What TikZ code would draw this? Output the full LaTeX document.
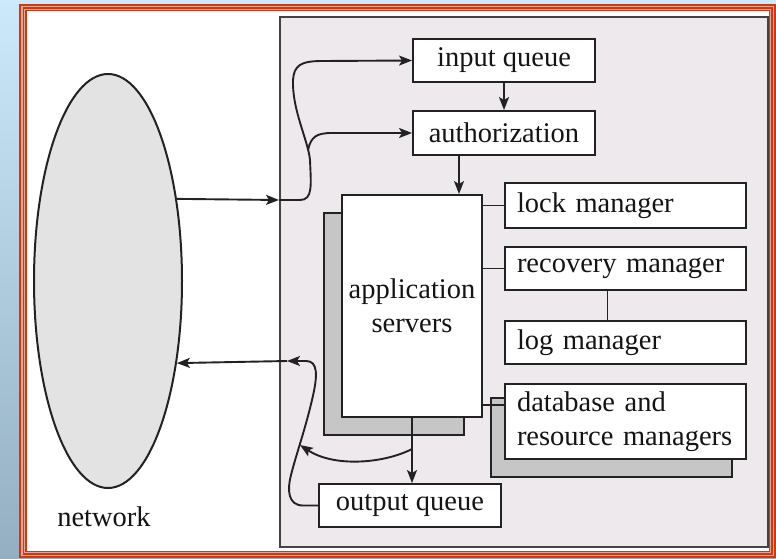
\documentclass[tikz,border=0pt]{standalone}
\usepackage{fontspec}
\setmainfont{Liberation Serif}
\usetikzlibrary{arrows.meta,shapes.geometric}
\definecolor{bgtop}{HTML}{CBE9FB}
\definecolor{bgbot}{HTML}{93AFC1}
\definecolor{framered}{HTML}{CC3A14}
\definecolor{framelight}{HTML}{EBA591}
\definecolor{panel}{HTML}{EEE9ED}
\definecolor{netfill}{HTML}{E3E3E3}
\definecolor{shadowc}{HTML}{C6C6C6}
\definecolor{linec}{HTML}{222222}
\definecolor{textc}{HTML}{141414}
\begin{document}
\begin{tikzpicture}[x=1pt,y=-1pt,
  every node/.style={font=\fontsize{28.5}{34}\selectfont, text=textc},
  wire/.style={draw=linec, line width=1.9pt},
  arr/.style={wire, -{Stealth[length=13pt,width=10pt,inset=3pt]}},
  box/.style={draw=linec, line width=1.9pt, fill=white, inner sep=0pt},
  lbox/.style={box, minimum width=241pt, text width=217pt, inner xsep=12pt, align=left},
  shadowbox/.style={draw=linec, line width=1.9pt, fill=shadowc}
]
\useasboundingbox (0,0) rectangle (776,559);
% background and frame
\shade[top color=bgtop, bottom color=bgbot] (0,0) rectangle (776,559);
\fill[framered] (19,4) rectangle (776,558);
\fill[framelight] (21,6) rectangle (774,556);
\fill[framered] (22.5,7.5) rectangle (772.5,554.5);
\fill[framelight] (24,9) rectangle (771,553);
\fill[framered] (25,10) rectangle (770,552);
\fill[white] (26.5,11.5) rectangle (769,551);
% system panel
\draw[fill=panel, draw=linec!85, line width=1.8pt] (280,17) rectangle (768,547);
% network
\node[ellipse, draw=linec, line width=2pt, fill=netfill, minimum width=148pt, minimum height=414pt, inner sep=0pt] (net) at (108,281) {};
\node (netlbl) at (104,517) {network};
% shadows
\draw[shadowbox] (324,213) rectangle (464,435);
\draw[shadowbox] (491,398) rectangle (732,477);
% boxes
\node[box, minimum width=182pt, minimum height=43pt] (iq) at (504,60.5) {input queue};
\node[box, minimum width=182pt, minimum height=44pt] (auth) at (504,133) {authorization};
\node[box, minimum width=140pt, minimum height=222pt, align=center] (app) at (412,306) {application\\servers};
\node[lbox, minimum height=45pt] (lock) at (625.5,205.5) {lock manager};
\node[lbox, minimum height=43pt] (rec) at (625.5,268.5) {recovery manager};
\node[lbox, minimum height=43pt] (log) at (625.5,342.5) {log manager};
\node[lbox, minimum height=75pt] (db) at (625.5,421.5) {database and\\resource managers};
\node[box, minimum width=182pt, minimum height=43pt] (oq) at (410,505.5) {output queue};
% internal connectors
\draw[arr] (iq.south) -- (auth.north);
\draw[arr] ([xshift=-45pt]auth.south) -- ([xshift=-45pt]auth.south |- app.north);
\draw[wire] (app.east |- lock.west) -- (lock.west);
\draw[wire] (app.east |- rec.west) -- (rec.west);
\draw[wire] ([xshift=-18pt]rec.south) -- ([xshift=-18pt]rec.south |- log.north);
\draw[wire] (app.east |- 0,405) -- (db.west |- 0,405);
\draw[arr] (app.south) -- (app.south |- oq.north);
% return from application servers
\coordinate (split) at (412,449);
\coordinate (hit) at (300,445);
\draw[arr] (split) .. controls (385,463) and (335,468) .. (hit);
% input path
\coordinate (inmid) at (279,200);
\coordinate (in1) at (300,200);
\coordinate (fork) at (308,150);
\draw[arr] (net.50) -- (inmid);
\draw[wire] (inmid) -- (in1) .. controls (313,200) and (311,185) .. (310,160) .. controls (308,140) and (292,110) .. (293,80) .. controls (294,66) and (300,61) .. (322,61);
\draw[arr] (322,61) -- (iq.west);
\draw[wire] (fork) .. controls (311,137) and (316,133) .. (332,133);
\draw[arr] (332,133) -- (auth.west);
% output path
\coordinate (outmid) at (287,361);
\draw[wire] (oq.west) -- (303,505.5) .. controls (288,505.5) and (287,490) .. (291,475) .. controls (296,455) and (305,430) .. (312,400) .. controls (318,375) and (318,361) .. (306,361);
\draw[arr] (306,361) -- (outmid);
\draw[arr] (outmid) -- (net.-50);
\end{tikzpicture}
\end{document}
